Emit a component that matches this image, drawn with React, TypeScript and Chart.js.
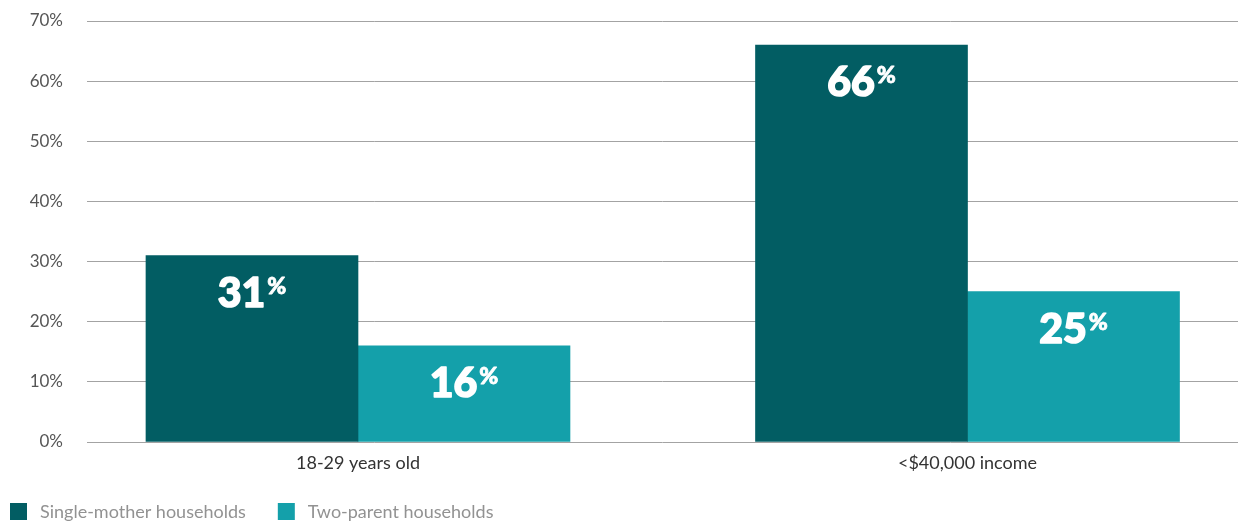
import React, { useEffect, useRef } from "react";
import { Chart, registerables } from "chart.js";

Chart.register(...registerables);

const categories = ["18-29 years old", "<$40,000 income"];
const seriesLabels = ["Single-mother households", "Two-parent households"];
const singleMother = [31, 66];
const twoParent = [16, 25];
const yTicks = [0, 10, 20, 30, 40, 50, 60, 70];

const DARK = "#025d63";
const LIGHT = "#14a0aa";
const FONT = "Lato, 'Open Sans', sans-serif";
const HEAVY = "'Lato Black', Lato, sans-serif";

const valueLabels = {
  id: "valueLabels",
  afterDatasetsDraw(chart: any) {
    const ctx = chart.ctx;
    ctx.save();
    chart.data.datasets.forEach((ds: any, di: number) => {
      const meta = chart.getDatasetMeta(di);
      meta.data.forEach((bar: any, i: number) => {
        const v = ds.data[i].y;
        const num = String(v);
        ctx.font = `900 41px ${HEAVY}`;
        const wNum = ctx.measureText(num).width;
        ctx.font = `900 23px ${HEAVY}`;
        const wPct = ctx.measureText("%").width;
        const gap = 2;
        const total = wNum + gap + wPct;
        const x0 = bar.x - total / 2;
        ctx.fillStyle = "#ffffff";
        ctx.strokeStyle = "#ffffff";
        ctx.lineJoin = "round";
        ctx.textAlign = "left";
        ctx.textBaseline = "alphabetic";
        ctx.font = `900 41px ${HEAVY}`;
        ctx.lineWidth = 1.6;
        ctx.fillText(num, x0, bar.y + 51);
        ctx.strokeText(num, x0, bar.y + 51);
        ctx.font = `900 23px ${HEAVY}`;
        ctx.lineWidth = 0.8;
        ctx.fillText("%", x0 + wNum + gap, bar.y + 38);
        ctx.strokeText("%", x0 + wNum + gap, bar.y + 38);
      });
    });
    ctx.restore();
  },
};

const customLegend = {
  id: "customLegend",
  afterDraw(chart: any) {
    const ctx = chart.ctx;
    ctx.save();
    ctx.font = `18px ${FONT}`;
    ctx.textBaseline = "middle";
    ctx.textAlign = "left";
    let x = 10;
    const yc = 512;
    chart.data.datasets.forEach((ds: any) => {
      ctx.fillStyle = ds.backgroundColor;
      ctx.fillRect(x, yc - 9, 17, 17);
      ctx.fillStyle = "#929292";
      ctx.fillText(ds.label, x + 30, yc);
      x += 30 + ctx.measureText(ds.label).width + 32;
    });
    ctx.restore();
  },
};

export default function App() {
  const ref = useRef<HTMLCanvasElement>(null);
  useEffect(() => {
    if (!ref.current) return;
    const chart = new Chart(ref.current, {
      type: "bar",
      data: {
        datasets: [
          {
            label: seriesLabels[0],
            data: singleMother.map((y, i) => ({ x: i, y })),
            backgroundColor: DARK,
            barThickness: 212,
          },
          {
            label: seriesLabels[1],
            data: twoParent.map((y, i) => ({ x: i, y })),
            backgroundColor: LIGHT,
            barThickness: 212,
          },
        ] as any,
      },
      options: {
        animation: false,
        responsive: true,
        maintainAspectRatio: false,
        layout: { padding: { top: 21, right: 0, bottom: 40, left: 0 } },
        plugins: {
          legend: { display: false },
          tooltip: { enabled: false },
        },
        scales: {
          x: {
            type: "linear",
            offset: false,
            bounds: "data",
            min: -0.4446,
            max: 1.4438,
            grid: { display: false, drawTicks: false, offset: false },
            border: { display: false },
            afterBuildTicks: (scale: any) => {
              scale.ticks = categories.map((_, i) => ({ value: i }));
            },
            afterFit: (scale: any) => {
              scale.height = 43;
              scale.paddingLeft = 0;
              scale.paddingRight = 0;
            },
            ticks: {
              autoSkip: false,
              maxRotation: 0,
              padding: 10,
              color: "#333333",
              font: { family: FONT, size: 18 },
              callback: (v: any) => categories[Math.round(v)] ?? "",
            },
          },
          y: {
            min: 0,
            max: 70,
            afterBuildTicks: (scale: any) => {
              scale.ticks = yTicks.map((v) => ({ value: v }));
            },
            afterFit: (scale: any) => {
              scale.width = 87;
              scale.paddingTop = 0;
              scale.paddingBottom = 0;
            },
            grid: { color: "#a3a3a3", lineWidth: 1, drawTicks: false },
            border: { display: false },
            ticks: {
              padding: 24,
              color: "#555555",
              font: { family: FONT, size: 17 },
              callback: (v: any) => v + "%",
            },
          },
        },
      },
      plugins: [valueLabels, customLegend],
    } as any);
    return () => chart.destroy();
  }, []);
  return (
    <div style={{ position: "fixed", left: 0, top: 0, width: 1238, height: 525, background: "#fff" }}>
      <canvas ref={ref} />
    </div>
  );
}
